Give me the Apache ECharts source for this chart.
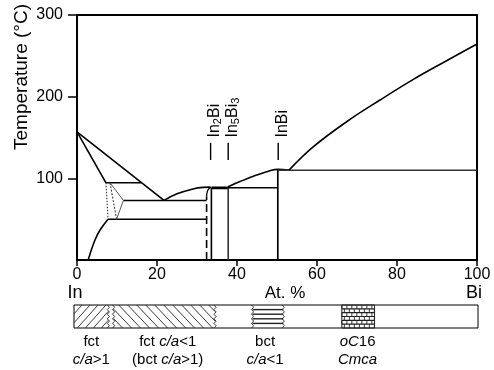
<!DOCTYPE html>
<html>
<head>
<meta charset="utf-8">
<script src="https://cdn.jsdelivr.net/npm/echarts@6/dist/echarts.min.js"></script>
<style>html,body{margin:0;padding:0;background:#fff}#c{width:494px;height:370px}</style>
</head>
<body>
<div id="c"></div>
<script>
// ---------- data ----------
const xTickValues = [0, 20, 40, 60, 80, 100];
const yTickValues = [100, 200, 300];

const liquidusIn = [[0,157],[16.2,94.5],[21.75,73]];
const solidusIn = [[0,157],[7.25,94.5]];
const peritecticUpper = [[7.25,94.5],[16.2,94.5]];
const eutecticLine = [[11.6,73],[32.4,73]];
const lowerLine = [[7.75,50],[32.4,50]];
const solvusIn = [[2.8,0],[3.3,8],[4.5,24.5],[5.8,37],[7.75,50]];
const triangleSolid = [[8.25,94.5],[11.6,73],[9.9,50]];
const dottedA = [[7.25,94.5],[7.75,50]];
const dottedB = [[8.25,94.5],[9.9,50]];
const liquidusMid = [[21.75,73],[25,81],[29,87],[31.5,88.9],[33.4,89.2]];
const in2biSolvusDashed = [[32.4,0],[32.4,78]];
const in2biSolvusTop = [[32.4,78],[32.6,84],[33,87.5],[33.5,89]];
const in2biLine = [[33.6,0],[33.6,88.3]];
const in2biTop = [[33.6,88.3],[37.8,88.3]];
const in5bi3Line = [[37.8,0],[37.8,90]];
const in5bi3Horizontal = [[37.8,88.5],[50.2,88.5]];
const liquidusInBi = [[37.8,89.8],[40.75,96],[44.9,104],[48.25,109.4],[50.2,111],[51.5,110.8],[53,110]];
const inbiLine = [[50.2,0],[50.2,111]];
const eutecticBi = [[50.2,110],[100,110]];
const liquidusBi = [[53,110],[59.1,138.7],[67.4,169.3],[75.75,195.9],[84.1,221.2],[92.4,244],[100,264.5]];

const compounds = ['In2Bi', 'In5Bi3', 'InBi'];
const compoundX = [33.4, 37.8, 50.3];

// structure strip (composition scale 0..100)
const stripStart = [0, 9.8, 44.2, 66.3];
const stripEnd = [8.5, 34.9, 51.8, 74.4];
const stripPattern = ['fwd', 'back', 'horiz', 'brick'];
const stripWavyLeft = [false, true, true, false];
const stripWavyRight = [true, true, true, false];
const stripLabelX = [4.3, 23.2, 47.3, 70.2];
const stripLabelLine1 = ['fct', 'fct {i|c/a}<1', 'bct', '{i|oC}16'];
const stripLabelLine2 = ['{i|c/a}>1', '(bct {i|c/a}>1)', '{i|c/a}<1', '{i|Cmca}'];

// ---------- rendering ----------
const FF = '"Liberation Sans", Arial, Helvetica, sans-serif';
const chart = echarts.init(document.getElementById('c'), null, {renderer: 'canvas'});

function lineS(data, opts) {
  opts = opts || {};
  return {
    type: 'line', xAxisIndex: 0, yAxisIndex: 0, data: data,
    showSymbol: false, symbol: 'none', silent: true, animation: false,
    smooth: opts.smooth || false,
    lineStyle: {color: opts.color || '#000', width: opts.width || 1.4, type: opts.type || 'solid'},
    z: 3
  };
}

function compoundRender(params, api) {
  const i = params.dataIndex;
  const x = api.value(0);
  const a = api.coord([x, 122.5]);
  const b = api.coord([x, 143.5]);
  const l = api.coord([x, 150]);
  const txt = compounds[i].replace(/(\d)/g, '{s|$1}');
  return {
    type: 'group',
    children: [
      {type: 'line', shape: {x1: a[0], y1: a[1], x2: b[0], y2: b[1]}, style: {stroke: '#000', lineWidth: 1.4}},
      {type: 'text', x: l[0] + 4, y: l[1], rotation: Math.PI / 2,
        style: {text: txt, align: 'left', verticalAlign: 'middle', fill: '#000',
          fontSize: 16, fontFamily: FF,
          rich: {s: {fontSize: 11, fontFamily: FF, fill: '#000', padding: [7, 0, 0, 0]}}}}
    ]
  };
}

function wavy(x, Y, H) {
  const pts = [];
  let j = 0;
  for (let y = Y; y <= Y + H + 0.01; y += 2.3) {
    pts.push([x + (j % 2 ? 1.1 : -1.1), y]);
    j++;
  }
  return {type: 'polyline', shape: {points: pts}, style: {stroke: '#222', lineWidth: 0.9, fill: null}};
}

function stripRender(params, api) {
  const i = params.dataIndex;
  const a = api.coord([api.value(0), 1]);
  const b = api.coord([api.value(1), 0]);
  const X = a[0], Y = a[1], W = b[0] - a[0], H = b[1] - a[1];
  const ch = [];
  const pat = stripPattern[i];
  const st = {stroke: '#222', lineWidth: 0.9};
  if (pat === 'fwd' || pat === 'back') {
    const run = pat === 'fwd' ? H * 0.9 : H * 0.95;
    const sp = pat === 'fwd' ? 8 : 9;
    for (let k = -run; k < W + run; k += sp) {
      const xa = X + k, xb = X + k + run, d = xb - xa;
      let t0 = Math.max(0, (X - xa) / d), t1 = Math.min(1, (X + W - xa) / d);
      if (t1 <= t0) continue;
      const ya = pat === 'fwd' ? Y + H : Y, yb = pat === 'fwd' ? Y : Y + H;
      ch.push({type: 'line', shape: {x1: xa + d * t0, y1: ya + (yb - ya) * t0, x2: xa + d * t1, y2: ya + (yb - ya) * t1}, style: st});
    }
  } else if (pat === 'horiz') {
    for (let j = 1; j < 5; j++) {
      const y = Y + H * j / 5;
      ch.push({type: 'line', shape: {x1: X, y1: y, x2: X + W, y2: y}, style: {stroke: '#222', lineWidth: 1.4}});
    }
  } else if (pat === 'brick') {
    const rows = 6, rh = H / rows, bw = 5;
    for (let r = 0; r <= rows; r++) {
      const y = Y + r * rh;
      ch.push({type: 'line', shape: {x1: X, y1: y, x2: X + W, y2: y}, style: {stroke: '#222', lineWidth: 1.1}});
    }
    for (let r = 0; r < rows; r++) {
      const y0 = Y + r * rh;
      for (let x = X + (r % 2 ? bw / 2 : 0); x <= X + W + 0.01; x += bw) {
        ch.push({type: 'line', shape: {x1: x, y1: y0, x2: x, y2: y0 + rh}, style: {stroke: '#222', lineWidth: 0.9}});
      }
    }
    ch.push({type: 'line', shape: {x1: X, y1: Y, x2: X, y2: Y + H}, style: {stroke: '#222', lineWidth: 1}});
    ch.push({type: 'line', shape: {x1: X + W, y1: Y, x2: X + W, y2: Y + H}, style: {stroke: '#222', lineWidth: 1}});
  }
  if (stripWavyLeft[i]) ch.push(wavy(X, Y, H));
  if (stripWavyRight[i]) ch.push(wavy(X + W, Y, H));
  return {type: 'group', children: ch};
}

function stripLabelRender(params, api) {
  const i = params.dataIndex;
  const p = api.coord([api.value(0), 0]);
  return {
    type: 'text', x: p[0], y: p[1] + 5,
    style: {text: stripLabelLine1[i] + '\n' + stripLabelLine2[i], align: 'center', verticalAlign: 'top',
      fontSize: 15, lineHeight: 18, fontFamily: FF, fill: '#000',
      rich: {i: {fontStyle: 'italic', fontSize: 15, lineHeight: 18, fontFamily: FF, fill: '#000'}}}
  };
}

const series = [
  lineS(liquidusIn, {width: 1.6}),
  lineS(solidusIn, {width: 1.6}),
  lineS(peritecticUpper, {width: 1.5}),
  lineS(eutecticLine, {width: 1.5}),
  lineS(lowerLine, {width: 1.5}),
  lineS(solvusIn, {width: 1.6, smooth: 0.4}),
  lineS(triangleSolid, {width: 1, color: '#555'}),
  lineS(dottedA, {width: 1.2, color: '#444', type: [1.5, 1.5]}),
  lineS(dottedB, {width: 1.1, color: '#444', type: [2, 1.5]}),
  lineS(liquidusMid, {width: 1.6, smooth: 0.4}),
  lineS(in2biSolvusDashed, {width: 1.6, type: [8, 4]}),
  lineS(in2biSolvusTop, {width: 1.3, smooth: 0.5}),
  lineS(in2biLine, {width: 1.6}),
  lineS(in2biTop, {width: 2.6}),
  lineS(in5bi3Line, {width: 1.6, color: '#333'}),
  lineS(in5bi3Horizontal, {width: 1.5}),
  lineS(liquidusInBi, {width: 1.6, smooth: 0.4}),
  lineS(inbiLine, {width: 1.7}),
  lineS(eutecticBi, {width: 1.5, color: '#333'}),
  lineS(liquidusBi, {width: 1.6, smooth: 0.4}),
  {type: 'custom', xAxisIndex: 0, yAxisIndex: 0, data: compoundX.map((x, i) => [x, i]),
    renderItem: compoundRender, silent: true, z: 5},
  {type: 'custom', xAxisIndex: 1, yAxisIndex: 1, data: stripStart.map((s, i) => [s, stripEnd[i]]),
    renderItem: stripRender, silent: true, z: 5},
  {type: 'custom', xAxisIndex: 1, yAxisIndex: 1, data: stripLabelX.map((x, i) => [x, i]),
    renderItem: stripLabelRender, silent: true, z: 5, clip: false}
];

const option = {
  animation: false,
  backgroundColor: '#fff',
  grid: [
    {left: 77, top: 15, width: 400, height: 245, show: true, borderColor: '#000', borderWidth: 2, backgroundColor: 'transparent'},
    {left: 74, top: 305, width: 404, height: 23, show: true, borderColor: '#000', borderWidth: 1, backgroundColor: 'transparent'}
  ],
  xAxis: [
    {gridIndex: 0, type: 'value', min: 0, max: 100, interval: 20,
      axisLine: {show: true, lineStyle: {color: '#000', width: 2}},
      axisTick: {show: true, length: 6, lineStyle: {color: '#000', width: 1.5}, customValues: xTickValues},
      axisLabel: {color: '#000', fontSize: 16, fontFamily: FF, margin: 7, customValues: xTickValues},
      splitLine: {show: false}},
    {gridIndex: 1, type: 'value', min: 0, max: 100, show: false}
  ],
  yAxis: [
    {gridIndex: 0, type: 'value', min: 0, max: 300, interval: 100,
      axisLine: {show: true, lineStyle: {color: '#000', width: 2}},
      axisTick: {show: true, length: 9, lineStyle: {color: '#000', width: 1.5}, customValues: yTickValues},
      axisLabel: {color: '#000', fontSize: 16, fontFamily: FF, margin: 14, customValues: yTickValues},
      splitLine: {show: false}},
    {gridIndex: 1, type: 'value', min: 0, max: 1, show: false}
  ],
  graphic: [
    {type: 'text', x: 22, y: 77, rotation: Math.PI / 2,
      style: {text: 'Temperature (°C)', fontSize: 19, fontFamily: FF, fill: '#000', align: 'center', verticalAlign: 'middle', textAlign: 'center', textVerticalAlign: 'middle'}},
    {type: 'text', x: 75, y: 293,
      style: {text: 'In', fontSize: 18, fontFamily: FF, fill: '#000', align: 'center', verticalAlign: 'middle', textAlign: 'center', textVerticalAlign: 'middle'}},
    {type: 'text', x: 285, y: 293,
      style: {text: 'At. %', fontSize: 17, fontFamily: FF, fill: '#000', align: 'center', verticalAlign: 'middle', textAlign: 'center', textVerticalAlign: 'middle'}},
    {type: 'text', x: 474, y: 293,
      style: {text: 'Bi', fontSize: 18, fontFamily: FF, fill: '#000', align: 'center', verticalAlign: 'middle', textAlign: 'center', textVerticalAlign: 'middle'}}
  ],
  series: series
};
chart.setOption(option);
</script>
</body>
</html>
